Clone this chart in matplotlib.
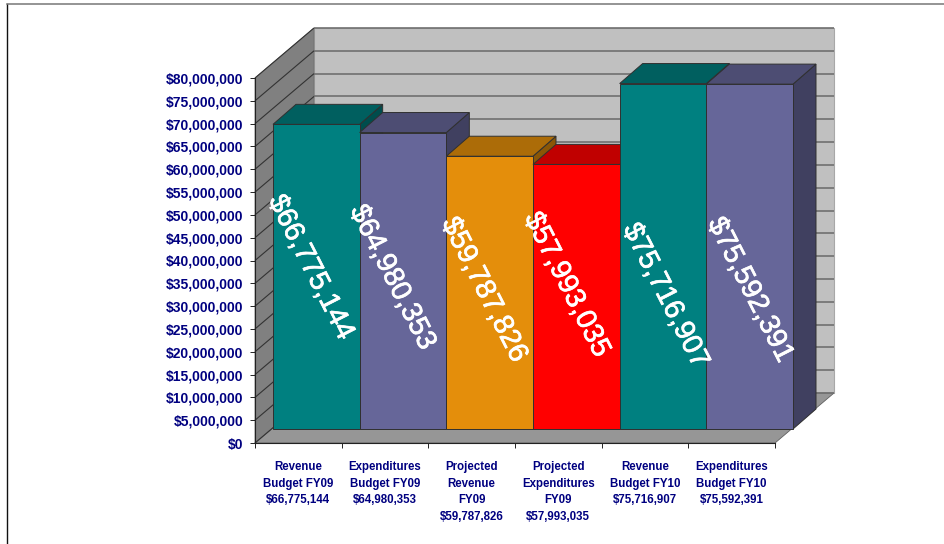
import matplotlib
matplotlib.use('Agg')
import matplotlib.pyplot as plt
import matplotlib.patheffects as pe
from matplotlib.patches import Polygon

plt.rcParams['font.family'] = ['Liberation Sans', 'DejaVu Sans']

# values
categories = ['Revenue\nBudget FY09\n$66,775,144',
              'Expenditures\nBudget FY09\n$64,980,353',
              'Projected\nRevenue\nFY09\n$59,787,826',
              'Projected\nExpenditures\nFY09\n$57,993,035',
              'Revenue\nBudget FY10\n$75,716,907',
              'Expenditures\nBudget FY10\n$75,592,391']
values = [66775144, 64980353, 59787826, 57993035, 75716907, 75592391]
bar_labels = ['$66,775,144', '$64,980,353', '$59,787,826',
              '$57,993,035', '$75,716,907', '$75,592,391']
y_ticks = list(range(0, 85000000, 5000000))

# front, top and side colours of every bar
front_colors = ['#008080', '#666699', '#e48e0b', '#ff0000', '#008080', '#666699']
top_colors = ['#005f5f', '#4d4d73', '#ac6c08', '#c00000', '#005f5f', '#4d4d73']
side_colors = ['#004d4d', '#404060', '#8a5606', '#a00000', '#004d4d', '#404060']

# where the rotated labels sit, relative to the bars
label_y = [38.4e6, 36.2e6, 33.5e6, 34.6e6, 32.2e6, 33.5e6]
label_nudge = [-6, -11, -6, -10, 2, 0]

W, H = 945, 544
AX_L, AX_R, AX_T, AX_B = 255, 775, 78, 443
DPI = 100

# pixel sizes in data units
PX_X = 6.0 / (AX_R - AX_L)
PX_Y = 80e6 / (AX_B - AX_T)

fig = plt.figure(figsize=(W / DPI, H / DPI), dpi=DPI)
ax = fig.add_axes([AX_L / W, 1 - AX_B / H, (AX_R - AX_L) / W, (AX_B - AX_T) / H])
ax.set_xlim(0, 6)
ax.set_ylim(0, 80e6)
ax.patch.set_visible(False)


def poly(pts, face, edge='#303030', lw=0.7, z=2):
    ax.add_patch(Polygon(pts, closed=True, facecolor=face, edgecolor=edge,
                         linewidth=lw, clip_on=False, zorder=z))


def line(xs, ys, color, lw=1.0, z=1.5):
    ax.plot(xs, ys, color=color, lw=lw, clip_on=False, zorder=z, solid_capstyle='butt')


# depth of the box and of the bars, px
wall_dx, wall_dy = 59 * PX_X, 50 * PX_Y
bar_dx, bar_dy = 18 * PX_X, 14 * PX_Y
top_dx, top_dy = 23 * PX_X, 20 * PX_Y

# walls and floor
poly([(wall_dx, wall_dy), (6 + wall_dx, wall_dy), (6 + wall_dx, 80e6 + wall_dy), (wall_dx, 80e6 + wall_dy)],
     '#c0c0c0', edge='#a8a8a8', lw=0.8, z=1)
poly([(0, 0), (wall_dx, wall_dy), (wall_dx, 80e6 + wall_dy), (0, 80e6)], '#808080', edge='#707070', lw=0.6, z=1)
poly([(0, 0), (6, 0), (6 + wall_dx, wall_dy), (wall_dx, wall_dy)], '#969696', edge='#606060', lw=0.6, z=1)

for v in y_ticks:
    line([wall_dx, 6 + wall_dx], [v + wall_dy, v + wall_dy], '#707070', lw=1.2)
    line([0, wall_dx], [v, v + wall_dy], '#333333', lw=0.8)

# bars, left to right so each front hides the side of the one before
for i, v in enumerate(values):
    x0 = i + bar_dx
    x1 = i + 1 + bar_dx
    y0 = bar_dy
    y1 = v + bar_dy
    poly([(x1, y0), (x1 + top_dx, y0 + top_dy), (x1 + top_dx, y1 + top_dy), (x1, y1)], side_colors[i])
    poly([(x0, y1), (x1, y1), (x1 + top_dx, y1 + top_dy), (x0 + top_dx, y1 + top_dy)], top_colors[i])
    poly([(x0, y0), (x1, y0), (x1, y1), (x0, y1)], front_colors[i])

for i, lab in enumerate(bar_labels):
    ax.text(i + 0.5 + bar_dx + label_nudge[i] * PX_X, label_y[i], lab, color='white', fontsize=20.5,
            rotation=-63, rotation_mode='anchor', ha='center', va='center', zorder=5,
            path_effects=[pe.withStroke(linewidth=0.5, foreground='white')])

# axes
for s in ['top', 'right']:
    ax.spines[s].set_visible(False)
for s in ['left', 'bottom']:
    ax.spines[s].set_color('#222222')
    ax.spines[s].set_linewidth(0.8)
    ax.spines[s].set_zorder(4)

ax.set_yticks(y_ticks)
ax.set_yticklabels(['${:,}'.format(v) for v in y_ticks], fontsize=10, fontweight='bold', color='#000080')
ax.tick_params(axis='y', length=3.6, width=0.7, color='#222222', pad=5)

ax.set_xticks(range(7))
ax.set_xticklabels([])
ax.tick_params(axis='x', which='major', length=3.6, width=0.7, color='#222222')
ax.set_xticks([i + 0.5 for i in range(6)], minor=True)
ax.set_xticklabels(categories, minor=True, fontsize=8.3, fontweight='bold', color='#000080', linespacing=1.52, va='top')
ax.tick_params(axis='x', which='minor', length=0, pad=13)

# slide frame: left and top rules only
fig.add_artist(plt.Line2D([7.5 / W, 7.5 / W], [0, 1 - 4 / H], color='#111111', lw=1.0))
fig.add_artist(plt.Line2D([7 / W, 1], [1 - 4 / H, 1 - 4 / H], color='#777777', lw=1.1))

fig.savefig('out.png', dpi=DPI)
